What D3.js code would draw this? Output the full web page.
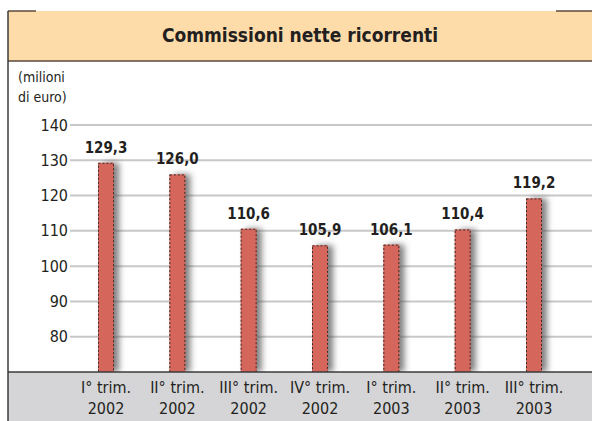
<!DOCTYPE html>
<html>
<head>
<meta charset="utf-8">
<script src="https://d3js.org/d3.v7.min.js"></script>
<style>
  body { margin: 0; background: #fff; }
  text { font-family: "Liberation Sans Narrow", "DejaVu Sans Condensed", "Roboto", sans-serif; fill: #231f20; }
</style>
</head>
<body>
<svg id="chart" width="592" height="421"></svg>
<script>
const categories = ["I° trim.|2002", "II° trim.|2002", "III° trim.|2002", "IV° trim.|2002",
                    "I° trim.|2003", "II° trim.|2003", "III° trim.|2003"];
const values = [129.3, 126.0, 110.6, 105.9, 106.1, 110.4, 119.2];
const yTicks = [80, 90, 100, 110, 120, 130, 140];
const title = "Commissioni nette ricorrenti";
const unitLines = ["(milioni", "di euro)"];

const svg = d3.select("#chart");
const width = +svg.attr("width");
const height = +svg.attr("height");
const frameLeft = 8, headTop = 11, headBottom = 61, baseY = 372;

const defs = svg.append("defs");
const shadow = defs.append("filter").attr("id", "shadow")
    .attr("x", "-50%").attr("y", "-10%").attr("width", "250%").attr("height", "120%");
shadow.append("feDropShadow").attr("dx", 5).attr("dy", 0)
    .attr("stdDeviation", 3).attr("flood-color", "#555").attr("flood-opacity", 0.75);

// header band
svg.append("rect").attr("x", frameLeft).attr("y", headTop)
    .attr("width", width - frameLeft).attr("height", headBottom - headTop)
    .attr("fill", "#fddcaa");
svg.append("line").attr("x1", frameLeft).attr("x2", width)
    .attr("y1", headBottom).attr("y2", headBottom)
    .attr("stroke", "#5a4a3a").attr("stroke-width", 1.5);
svg.append("line").attr("x1", frameLeft).attr("x2", 36)
    .attr("y1", headTop).attr("y2", headTop)
    .attr("stroke", "#5a4a3a").attr("stroke-width", 1.5);
svg.append("line").attr("x1", 556).attr("x2", width)
    .attr("y1", headTop).attr("y2", headTop)
    .attr("stroke", "#5a4a3a").attr("stroke-width", 1.5);
svg.append("text").attr("x", 300).attr("y", 42)
    .attr("text-anchor", "middle").attr("font-size", 19).attr("font-weight", "bold")
    .text(title);

// unit label
svg.append("g").selectAll("text").data(unitLines).join("text")
    .attr("x", 18).attr("y", (d, i) => 82 + i * 20)
    .attr("font-size", 14).text(d => d);

const y = d3.scaleLinear().domain([70, 140]).range([baseY, 125]);
const x = d3.scalePoint().domain(categories).range([106, 534]);

// grid + ticks
const yAxis = svg.append("g").attr("transform", "translate(70,0)")
    .call(d3.axisLeft(y).tickValues(yTicks).tickSize(0).tickPadding(2));
yAxis.select(".domain").remove();
yAxis.selectAll(".tick text").attr("font-size", 16).attr("fill", "#231f20")
    .attr("font-family", "\"Liberation Sans Narrow\", \"DejaVu Sans Condensed\", sans-serif");
svg.append("g").selectAll("line").data(yTicks).join("line")
    .attr("x1", 70).attr("x2", width)
    .attr("y1", d => y(d)).attr("y2", d => y(d))
    .attr("stroke", "#c8c8c8").attr("stroke-width", 2);

// bars
const bw = 16;
svg.append("g").selectAll("rect").data(values).join("rect")
    .attr("x", (d, i) => x(categories[i]) - bw / 2)
    .attr("y", d => y(d))
    .attr("width", bw)
    .attr("height", d => baseY - y(d))
    .attr("fill", "#d4665c")
    .attr("filter", "url(#shadow)");
svg.append("g").selectAll("rect").data(values).join("rect")
    .attr("x", (d, i) => x(categories[i]) - bw / 2 + 0.5)
    .attr("y", d => y(d) + 0.5)
    .attr("width", bw - 1)
    .attr("height", d => baseY - y(d))
    .attr("fill", "none")
    .attr("stroke", "#3a2a28").attr("stroke-width", 1)
    .attr("stroke-dasharray", "2,2");

// value labels
svg.append("g").selectAll("text").data(values).join("text")
    .attr("x", (d, i) => x(categories[i]))
    .attr("y", d => y(d) - 10)
    .attr("text-anchor", "middle").attr("font-size", 15).attr("font-weight", "bold")
    .text(d => d.toFixed(1).replace(".", ","));

// bottom band
svg.append("rect").attr("x", frameLeft).attr("y", baseY)
    .attr("width", width - frameLeft).attr("height", height - baseY)
    .attr("fill", "#d5d5d7");
svg.append("line").attr("x1", frameLeft).attr("x2", width)
    .attr("y1", baseY).attr("y2", baseY)
    .attr("stroke", "#3a3a3a").attr("stroke-width", 1.5);

const labels = svg.append("g").selectAll("text").data(categories).join("text")
    .attr("text-anchor", "middle").attr("font-size", 16);
labels.selectAll("tspan").data(d => d.split("|").map(s => [d, s])).join("tspan")
    .attr("x", d => x(d[0]))
    .attr("y", (d, i) => 393 + i * 21)
    .text(d => d[1]);

// left frame
svg.append("line").attr("x1", frameLeft).attr("x2", frameLeft)
    .attr("y1", headTop).attr("y2", height)
    .attr("stroke", "#3a3a3a").attr("stroke-width", 1.5);
</script>
</body>
</html>
